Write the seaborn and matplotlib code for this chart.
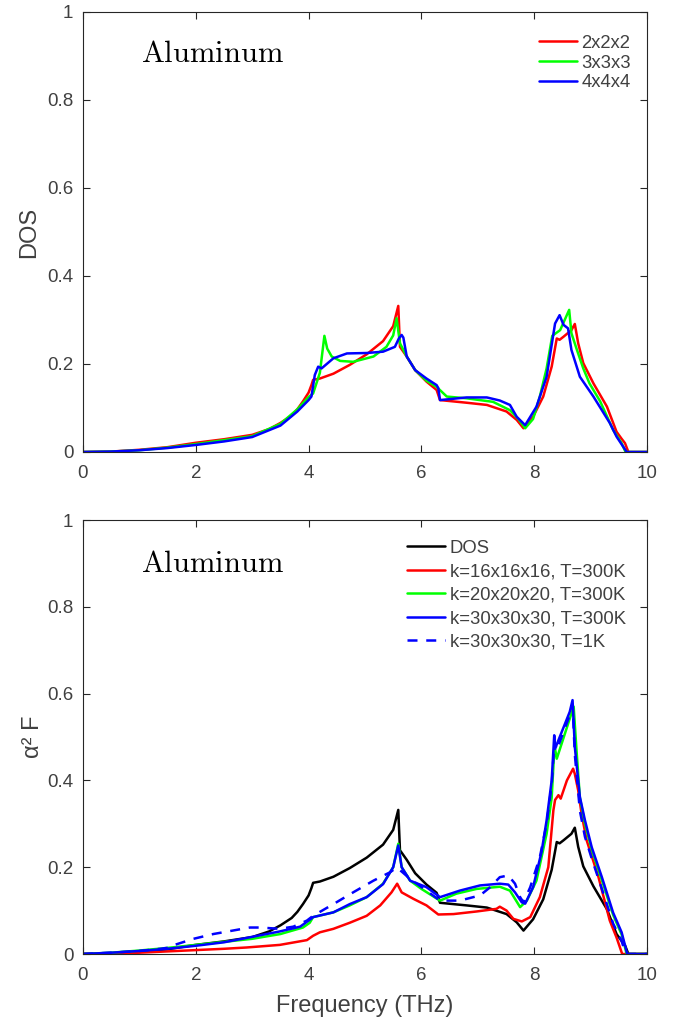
import numpy as np
import pandas as pd
import seaborn as sns
import matplotlib
matplotlib.use("Agg")
import matplotlib.pyplot as plt
from matplotlib.ticker import FixedLocator, FixedFormatter

# ---------------- data: top panel (phonon DOS, q-grid convergence) ----------------
x_222 = [0, 0.5, 1.0, 1.5, 2.0, 2.5, 3.0, 3.3, 3.5, 3.7, 3.8, 3.9, 4.0, 4.05, 4.08, 4.2, 4.44,
         4.73, 5.03, 5.32, 5.50, 5.59, 5.62, 5.74, 5.89, 6.09, 6.27, 6.33, 6.80, 7.16, 7.51,
         7.69, 7.81, 7.98, 8.16, 8.31, 8.40, 8.45, 8.52, 8.66, 8.72, 8.78, 8.87, 9.05, 9.29,
         9.46, 9.55, 9.61, 9.67, 10.0]
y_222 = [0, 0.001, 0.005, 0.011, 0.021, 0.029, 0.039, 0.052, 0.066, 0.083, 0.097, 0.115, 0.135,
         0.152, 0.164, 0.167, 0.178, 0.198, 0.222, 0.252, 0.286, 0.332, 0.239, 0.217, 0.186,
         0.160, 0.141, 0.118, 0.112, 0.107, 0.092, 0.073, 0.054, 0.080, 0.126, 0.194, 0.258,
         0.255, 0.262, 0.277, 0.291, 0.247, 0.202, 0.156, 0.103, 0.046, 0.030, 0.020, 0, 0]

x_333 = [0, 0.5, 1.0, 1.5, 2.0, 2.5, 3.0, 3.5, 3.8, 4.0, 4.08, 4.2, 4.28, 4.33, 4.41, 4.56, 4.79,
         5.15, 5.38, 5.50, 5.56, 5.62, 5.74, 5.89, 6.09, 6.27, 6.45, 6.80, 7.27, 7.57, 7.72,
         7.84, 7.98, 8.10, 8.22, 8.32, 8.46, 8.62, 8.66, 8.75, 8.87, 8.98, 9.17, 9.40, 9.55,
         9.62, 10.0]
y_333 = [0, 0.001, 0.004, 0.010, 0.018, 0.027, 0.036, 0.064, 0.097, 0.125, 0.133, 0.18, 0.264,
         0.235, 0.217, 0.207, 0.205, 0.217, 0.239, 0.265, 0.304, 0.247, 0.217, 0.186, 0.162,
         0.148, 0.126, 0.122, 0.114, 0.095, 0.075, 0.054, 0.075, 0.126, 0.19, 0.264, 0.277,
         0.323, 0.27, 0.235, 0.19, 0.156, 0.115, 0.05, 0.02, 0, 0]

x_444 = [0, 0.5, 1.0, 1.5, 2.0, 2.5, 3.0, 3.5, 3.8, 4.0, 4.05, 4.11, 4.17, 4.23, 4.44, 4.68,
         5.03, 5.32, 5.53, 5.60, 5.65, 5.68, 5.74, 5.89, 6.09, 6.27, 6.30, 6.33, 6.80, 7.16,
         7.39, 7.57, 7.69, 7.84, 8.04, 8.22, 8.37, 8.45, 8.52, 8.60, 8.66, 8.81, 9.05, 9.34,
         9.46, 9.64, 10.0]
y_444 = [0, 0.001, 0.004, 0.009, 0.016, 0.024, 0.034, 0.060, 0.092, 0.118, 0.126, 0.175, 0.194,
         0.19, 0.213, 0.224, 0.225, 0.228, 0.239, 0.258, 0.266, 0.26, 0.217, 0.186, 0.167,
         0.152, 0.145, 0.118, 0.124, 0.124, 0.117, 0.107, 0.080, 0.061, 0.103, 0.171, 0.292,
         0.311, 0.289, 0.281, 0.232, 0.171, 0.126, 0.066, 0.035, 0, 0]

top_labels = ["2x2x2", "3x3x3", "4x4x4"]

# ---------------- data: bottom panel (Eliashberg function) ----------------
x_k16 = [0, 0.5, 1.0, 1.5, 2.0, 2.5, 2.9, 3.49, 3.97, 4.08, 4.2, 4.44, 4.73, 5.03, 5.27, 5.47,
         5.57, 5.65, 5.86, 6.09, 6.30, 6.57, 6.98, 7.33, 7.39, 7.51, 7.63, 7.78, 7.93, 8.10,
         8.25, 8.34, 8.37, 8.43, 8.47, 8.58, 8.69, 8.72, 8.78, 8.84, 8.93, 9.14, 9.34, 9.46,
         9.56, 10.0]
y_k16 = [0, 0.001, 0.003, 0.006, 0.009, 0.012, 0.015, 0.021, 0.032, 0.042, 0.05, 0.058, 0.072,
         0.088, 0.112, 0.142, 0.162, 0.142, 0.127, 0.112, 0.091, 0.092, 0.098, 0.104, 0.109,
         0.10, 0.081, 0.075, 0.085, 0.131, 0.2, 0.331, 0.355, 0.366, 0.358, 0.40, 0.427,
         0.415, 0.377, 0.323, 0.262, 0.177, 0.077, 0.038, 0, 0]

x_k20 = [0, 0.5, 1.0, 1.5, 2.0, 2.5, 3.0, 3.5, 3.9, 4.02, 4.08, 4.44, 4.73, 5.03, 5.32, 5.50,
         5.59, 5.65, 5.80, 6.0, 6.33, 6.62, 6.98, 7.39, 7.57, 7.75, 7.87, 8.04, 8.22, 8.31,
         8.36, 8.40, 8.66, 8.70, 8.75, 8.81, 8.90, 9.02, 9.20, 9.40, 9.55, 9.64, 10.0]
y_k20 = [0, 0.003, 0.008, 0.014, 0.021, 0.028, 0.035, 0.046, 0.061, 0.072, 0.085, 0.096, 0.112,
         0.131, 0.162, 0.2, 0.254, 0.2, 0.169, 0.15, 0.123, 0.139, 0.15, 0.155, 0.146, 0.108,
         0.123, 0.169, 0.277, 0.36, 0.48, 0.45, 0.554, 0.57, 0.47, 0.36, 0.30, 0.24, 0.17,
         0.09, 0.045, 0, 0]

x_k30 = [0, 0.5, 1.0, 1.5, 2.0, 2.5, 2.9, 3.49, 3.85, 4.02, 4.08, 4.44, 4.73, 5.03, 5.32, 5.50,
         5.59, 5.65, 5.80, 6.09, 6.33, 6.68, 7.04, 7.39, 7.54, 7.66, 7.78, 7.84, 7.98, 8.13,
         8.22, 8.31, 8.355, 8.37, 8.63, 8.68, 8.72, 8.81, 8.90, 9.02, 9.20, 9.40, 9.55, 9.65,
         10.0]
y_k30 = [0, 0.003, 0.007, 0.012, 0.019, 0.027, 0.037, 0.052, 0.063, 0.079, 0.085, 0.096, 0.115,
         0.131, 0.161, 0.2, 0.25, 0.2, 0.169, 0.154, 0.131, 0.146, 0.158, 0.162, 0.16, 0.142,
         0.119, 0.116, 0.154, 0.235, 0.308, 0.40, 0.504, 0.473, 0.558, 0.585, 0.477, 0.362,
         0.308, 0.246, 0.177, 0.095, 0.05, 0, 0]

x_k30_1K = [0, 0.5, 1.0, 1.37, 1.54, 1.6, 1.96, 2.31, 2.96, 3.14, 3.49, 3.73, 3.97, 4.08, 4.32,
            4.44, 4.79, 5.15, 5.44, 5.56, 5.65, 5.80, 6.09, 6.33, 6.68, 7.04, 7.22, 7.39, 7.54,
            7.66, 7.75, 7.81, 7.93, 8.10, 8.22, 8.31, 8.36, 8.40, 8.63, 8.68, 8.72, 8.81, 8.90,
            9.02, 9.20, 9.40, 9.55, 9.62, 10.0]
y_k30_1K = [0, 0.003, 0.007, 0.012, 0.015, 0.02, 0.035, 0.046, 0.061, 0.061, 0.058, 0.063, 0.077,
            0.088, 0.106, 0.115, 0.142, 0.169, 0.188, 0.199, 0.19, 0.173, 0.146, 0.123, 0.123,
            0.135, 0.154, 0.177, 0.181, 0.162, 0.131, 0.119, 0.154, 0.223, 0.30, 0.39, 0.49,
            0.47, 0.55, 0.575, 0.46, 0.33, 0.27, 0.22, 0.15, 0.07, 0.03, 0, 0]

bottom_labels = ["DOS", "k=16x16x16, T=300K", "k=20x20x20, T=300K",
                 "k=30x30x30, T=300K", "k=30x30x30, T=1K"]

x_ticks = [0, 2, 4, 6, 8, 10]
x_ticklabels = ["0", "2", "4", "6", "8", "10"]
y_ticks = [0, 0.2, 0.4, 0.6, 0.8, 1.0]
y_ticklabels = ["0", "0.2", "0.4", "0.6", "0.8", "1"]

# ---------------- style ----------------
sns.set_style("ticks")
plt.rcParams["font.family"] = ["Liberation Sans", "DejaVu Sans"]
plt.rcParams["axes.linewidth"] = 0.8

SPINE = "#262626"
TXT = "#404040"
LW = 1.8

fig = plt.figure(figsize=(6.85, 10.22), dpi=100)
ax1 = fig.add_axes([83 / 685, 1 - 452 / 1022, 564 / 685, 440 / 1022])
ax2 = fig.add_axes([83 / 685, 1 - 954 / 1022, 564 / 685, 434 / 1022])


def style_axes(ax):
    ax.set_xlim(0, 10)
    ax.set_ylim(0, 1)
    ax.xaxis.set_major_locator(FixedLocator(x_ticks))
    ax.xaxis.set_major_formatter(FixedFormatter(x_ticklabels))
    ax.yaxis.set_major_locator(FixedLocator(y_ticks))
    ax.yaxis.set_major_formatter(FixedFormatter(y_ticklabels))
    ax.tick_params(direction="in", top=True, right=True, length=5, width=0.8,
                   color=SPINE, labelcolor=TXT, labelsize=13.5)
    ax.tick_params(axis="x", pad=9)
    ax.tick_params(axis="y", pad=7)
    for s in ax.spines.values():
        s.set_visible(True)
        s.set_color(SPINE)
        s.set_linewidth(0.8)


# ---------------- top panel ----------------
for xs, ys, c, lab in [(x_222, y_222, "#ff0000", top_labels[0]),
                       (x_333, y_333, "#00ff00", top_labels[1]),
                       (x_444, y_444, "#0000ff", top_labels[2])]:
    sns.lineplot(x=xs, y=ys, color=c, lw=LW, label=lab, ax=ax1, estimator=None, sort=False)

style_axes(ax1)
ax1.set_ylabel("DOS", fontsize=17, color=TXT, labelpad=5)
ax1.set_xlabel("")
ax1.text(1.02, 0.886, r"$\mathrm{Aluminum}$", fontsize=22, math_fontfamily="cm",
         ha="left", va="baseline", color="black")
ax1.legend(frameon=False, loc="upper left", bbox_to_anchor=(0.808, 0.948),
           borderpad=0, borderaxespad=0, handlelength=2.05, handletextpad=0.25,
           labelspacing=0.15, fontsize=13.3, labelcolor=TXT)

# ---------------- bottom panel ----------------
series_b = [(x_222, y_222, "black", bottom_labels[0], "-"),
            (x_k16, y_k16, "#ff0000", bottom_labels[1], "-"),
            (x_k20, y_k20, "#00ff00", bottom_labels[2], "-"),
            (x_k30, y_k30, "#0000ff", bottom_labels[3], "-"),
            (x_k30_1K, y_k30_1K, "#0000ff", bottom_labels[4], (0, (4, 3.5)))]
for xs, ys, c, lab, ls in series_b:
    sns.lineplot(x=xs, y=ys, color=c, lw=LW, label=lab, ax=ax2, estimator=None, sort=False,
                 linestyle=ls)

style_axes(ax2)
ax2.set_ylabel("α² F", fontsize=17, color=TXT, labelpad=2)
ax2.set_xlabel("Frequency (THz)", fontsize=17, color=TXT, labelpad=8)
ax2.text(1.02, 0.881, r"$\mathrm{Aluminum}$", fontsize=22, math_fontfamily="cm",
         ha="left", va="baseline", color="black")
ax2.legend(frameon=False, loc="upper left", bbox_to_anchor=(0.574, 0.954),
           borderpad=0, borderaxespad=0, handlelength=2.05, handletextpad=0.27,
           labelspacing=0.35, fontsize=13.3, labelcolor=TXT)

fig.savefig("out.png", dpi=100)
